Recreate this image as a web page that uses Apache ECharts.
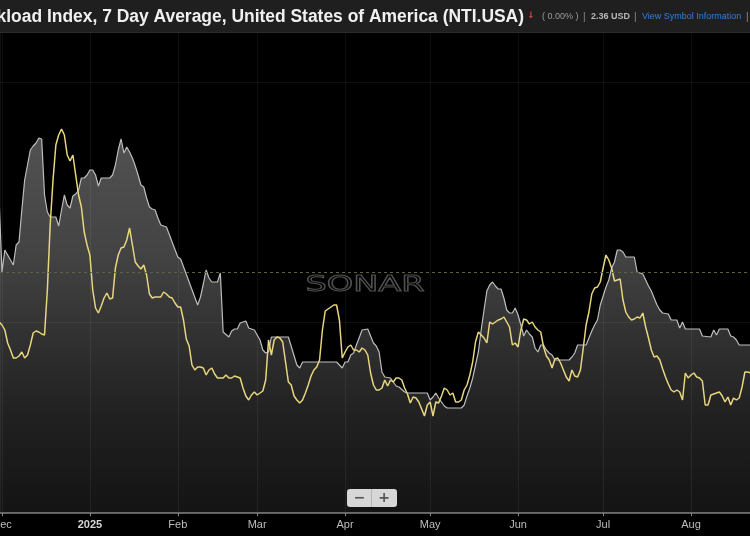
<!DOCTYPE html>
<html>
<head>
<meta charset="utf-8">
<title>NTI.USA</title>
<script src="https://cdn.jsdelivr.net/npm/echarts@6/dist/echarts.min.js"></script>
<style>
  html, body { margin: 0; padding: 0; background: #000; }
  #chart { width: 750px; height: 536px; }
</style>
</head>
<body>
<div id="chart"></div>
<script>
// day 0 = 1 Dec 2024, yellow line has one value per day starting at startDay
var startDay = -1;
var yellowValues = [
  2.260, 2.254, 2.244, 2.218, 2.204, 2.188, 2.188, 2.192, 2.200, 2.188,
  2.194, 2.214, 2.238, 2.242, 2.240, 2.236, 2.234, 2.324, 2.454, 2.544,
  2.614, 2.634, 2.646, 2.634, 2.594, 2.582, 2.594, 2.554, 2.514, 2.490,
  2.440, 2.414, 2.394, 2.324, 2.288, 2.278, 2.292, 2.308, 2.318, 2.306,
  2.308, 2.368, 2.394, 2.408, 2.410, 2.424, 2.448, 2.414, 2.380, 2.372,
  2.366, 2.374, 2.354, 2.316, 2.308, 2.310, 2.310, 2.310, 2.320, 2.316,
  2.310, 2.308, 2.298, 2.290, 2.290, 2.264, 2.226, 2.212, 2.174, 2.164,
  2.170, 2.170, 2.168, 2.154, 2.164, 2.168, 2.156, 2.148, 2.148, 2.148,
  2.154, 2.148, 2.148, 2.152, 2.150, 2.148, 2.128, 2.112, 2.104, 2.114,
  2.120, 2.114, 2.118, 2.122, 2.144, 2.224, 2.194, 2.224, 2.230, 2.228,
  2.220, 2.180, 2.140, 2.134, 2.112, 2.104, 2.098, 2.104, 2.118, 2.134,
  2.152, 2.164, 2.170, 2.184, 2.244, 2.282, 2.286, 2.290, 2.294, 2.294,
  2.264, 2.188, 2.200, 2.210, 2.214, 2.204, 2.204, 2.200, 2.208, 2.204,
  2.194, 2.158, 2.134, 2.124, 2.124, 2.128, 2.144, 2.132, 2.144, 2.140,
  2.148, 2.148, 2.144, 2.128, 2.116, 2.098, 2.110, 2.108, 2.100, 2.086,
  2.072, 2.094, 2.100, 2.072, 2.100, 2.098, 2.112, 2.128, 2.124, 2.114,
  2.118, 2.100, 2.100, 2.104, 2.124, 2.134, 2.154, 2.180, 2.220, 2.240,
  2.234, 2.228, 2.218, 2.260, 2.256, 2.260, 2.264, 2.266, 2.270, 2.260,
  2.250, 2.214, 2.218, 2.210, 2.244, 2.266, 2.264, 2.256, 2.260, 2.250,
  2.244, 2.240, 2.210, 2.192, 2.184, 2.168, 2.186, 2.188, 2.178, 2.164,
  2.150, 2.142, 2.164, 2.152, 2.150, 2.164, 2.208, 2.254, 2.280, 2.316,
  2.328, 2.330, 2.340, 2.368, 2.394, 2.384, 2.368, 2.342, 2.344, 2.346,
  2.304, 2.280, 2.270, 2.264, 2.266, 2.270, 2.268, 2.278, 2.250, 2.228,
  2.204, 2.190, 2.192, 2.184, 2.166, 2.150, 2.136, 2.124, 2.120, 2.124,
  2.120, 2.104, 2.158, 2.148, 2.154, 2.158, 2.150, 2.148, 2.142, 2.094,
  2.094, 2.114, 2.116, 2.118, 2.120, 2.112, 2.100, 2.110, 2.094, 2.108,
  2.104, 2.108, 2.130, 2.160, 2.160, 2.158
];

// gray area, stepped 7 day average (day, value)
var grayDays = [
  -1, 0, 1, 3, 4, 5, 6, 7, 8, 9, 10, 11, 12, 13, 14, 15, 16, 17, 19, 20,
  21, 22, 23, 24, 25, 26, 27, 28, 29, 30, 31, 32, 33, 34, 35, 38, 39, 40, 41, 42,
  43, 44, 45, 46, 47, 48, 49, 50, 51, 52, 53, 54, 55, 56, 57, 58, 62, 63, 69, 70,
  71, 72, 73, 74, 76, 77, 78, 80, 81, 82, 83, 84, 86, 87, 89, 91, 92, 93, 94, 95,
  101, 104, 105, 106, 117, 118, 120, 121, 122, 123, 124, 125, 127, 129, 131, 132, 133, 134, 135, 137,
  139, 140, 142, 143, 150, 151, 152, 153, 154, 155, 156, 157, 162, 163, 164, 165, 166, 167, 168, 169,
  170, 171, 172, 173, 174, 175, 176, 177, 178, 179, 180, 181, 182, 183, 184, 185, 186, 187, 188, 189,
  190, 191, 192, 193, 194, 195, 200, 201, 202, 203, 206, 207, 208, 209, 210, 211, 212, 213, 214, 215,
  216, 217, 218, 219, 220, 223, 224, 225, 226, 227, 228, 229, 230, 231, 232, 233, 235, 236, 238, 239,
  240, 241, 246, 247, 250, 251, 252, 253, 256, 257, 258, 259, 260, 264
];
var grayValues = [
  2.504, 2.360, 2.404, 2.384, 2.374, 2.414, 2.420, 2.484, 2.544, 2.574, 2.604, 2.612, 2.618, 2.628, 2.626, 2.514, 2.480, 2.470, 2.470, 2.452,
  2.484, 2.514, 2.494, 2.488, 2.512, 2.516, 2.524, 2.548, 2.548, 2.554, 2.564, 2.564, 2.554, 2.532, 2.548, 2.548, 2.554, 2.574, 2.604, 2.626,
  2.598, 2.610, 2.600, 2.588, 2.572, 2.554, 2.534, 2.530, 2.508, 2.490, 2.486, 2.484, 2.468, 2.454, 2.452, 2.450, 2.390, 2.386, 2.294, 2.310,
  2.336, 2.364, 2.348, 2.340, 2.340, 2.358, 2.240, 2.230, 2.242, 2.246, 2.246, 2.258, 2.262, 2.248, 2.244, 2.224, 2.204, 2.198, 2.200, 2.230,
  2.230, 2.174, 2.168, 2.180, 2.180, 2.180, 2.168, 2.180, 2.180, 2.194, 2.198, 2.214, 2.244, 2.246, 2.218, 2.212, 2.200, 2.160, 2.150, 2.148,
  2.132, 2.130, 2.120, 2.118, 2.118, 2.104, 2.110, 2.118, 2.108, 2.100, 2.092, 2.088, 2.088, 2.094, 2.112, 2.128, 2.148, 2.174, 2.200, 2.244,
  2.284, 2.322, 2.334, 2.340, 2.332, 2.326, 2.326, 2.308, 2.284, 2.278, 2.278, 2.288, 2.274, 2.254, 2.232, 2.244, 2.236, 2.230, 2.208, 2.200,
  2.214, 2.214, 2.204, 2.198, 2.194, 2.184, 2.184, 2.190, 2.198, 2.214, 2.214, 2.228, 2.242, 2.254, 2.264, 2.294, 2.312, 2.330, 2.344, 2.368,
  2.380, 2.404, 2.404, 2.400, 2.390, 2.390, 2.360, 2.358, 2.356, 2.344, 2.332, 2.322, 2.308, 2.294, 2.284, 2.278, 2.276, 2.264, 2.264, 2.248,
  2.260, 2.246, 2.246, 2.232, 2.230, 2.244, 2.234, 2.246, 2.246, 2.232, 2.230, 2.224, 2.214, 2.214
];

var lastPrice = 2.36;           // dashed reference line
var gridLevels = [2.738, 2.264];
var monthNames = ['Jan', 'Feb', 'Mar', 'Apr', 'May', 'Jun', 'Jul', 'Aug', 'Sep', 'Oct', 'Nov', 'Dec'];

var DAY = 86400000;
var base = new Date(2024, 11, 1).getTime();
function toTime(d) { return base + d * DAY; }

var yellowData = yellowValues.map(function (v, i) { return [toTime(startDay + i), v]; });
var grayData = grayDays.map(function (d, i) { return [toTime(d), grayValues[i]]; });

var chart = echarts.init(document.getElementById('chart'));
chart.setOption({
  backgroundColor: '#000',
  animation: false,
  grid: { left: 0, right: 0, top: 33, bottom: 23, containLabel: false, outerBoundsMode: 'none' },
  xAxis: {
    type: 'time',
    min: toTime(-0.7),
    max: toTime(263.8),
    splitNumber: 9,
    axisLine: { show: true, lineStyle: { color: '#5e5e5e', width: 2 } },
    axisTick: { show: true, length: 3, lineStyle: { color: '#8a8a8a' } },
    axisLabel: {
      color: '#bcbcbc',
      fontSize: 11,
      fontFamily: 'Liberation Sans',
      margin: 6,
      formatter: function (val) {
        var d = new Date(val);
        if (d.getMonth() === 0) return '{y|' + d.getFullYear() + '}';
        return monthNames[d.getMonth()];
      },
      rich: { y: { fontWeight: 'bold', color: '#d6d6d6', fontSize: 11, fontFamily: 'Liberation Sans' } }
    },
    splitLine: { show: true, lineStyle: { color: 'rgba(255,255,255,0.06)', width: 1 } }
  },
  yAxis: {
    type: 'value',
    min: 1.878,
    max: 2.838,
    show: false
  },
  series: [
    {
      name: 'NTI 7DA',
      type: 'line',
      data: grayData,
      symbol: 'none',
      lineStyle: { color: '#bdbdbd', width: 1.2 },
      areaStyle: {
        color: {
          type: 'linear', x: 0, y: 120, x2: 0, y2: 513, global: true,
          colorStops: [
            { offset: 0, color: 'rgba(255,255,255,0.47)' },
            { offset: 0.33, color: 'rgba(255,255,255,0.38)' },
            { offset: 0.585, color: 'rgba(255,255,255,0.26)' },
            { offset: 0.763, color: 'rgba(255,255,255,0.18)' },
            { offset: 1, color: 'rgba(255,255,255,0.11)' }
          ]
        }
      },
      markLine: {
        silent: true,
        symbol: 'none',
        label: { show: false },
        data: [
          { yAxis: lastPrice, lineStyle: { type: [3, 3], color: '#56643f', width: 1 } },
          { yAxis: gridLevels[0], lineStyle: { type: 'solid', color: 'rgba(255,255,255,0.06)', width: 1 } },
          { yAxis: gridLevels[1], lineStyle: { type: 'solid', color: 'rgba(255,255,255,0.06)', width: 1 } }
        ]
      }
    },
    {
      name: 'NTI',
      type: 'line',
      data: yellowData,
      symbol: 'none',
      z: 3,
      lineStyle: { color: '#e8d67e', width: 1.5 }
    }
  ],
  graphic: [
    { type: 'rect', shape: { x: 0, y: 0, width: 750, height: 33 }, style: { fill: '#1f1f1f' }, z: 10 },
    { type: 'rect', shape: { x: 0, y: 32, width: 750, height: 1 }, style: { fill: '#2b2b2b' }, z: 10 },
    {
      type: 'text', x: 524, y: 17, z: 11,
      style: {
        text: 'National Truckload Index, 7 Day Average, United States of America (NTI.USA)',
        align: 'right', verticalAlign: 'middle',
        font: 'bold 17.45px "Liberation Sans"', fill: '#f0f0f0'
      }
    },
    { type: 'text', x: 531, y: 16, z: 11, style: { text: '↓', align: 'center', verticalAlign: 'middle', font: 'bold 9px "DejaVu Sans"', fill: '#d2473b' } },
    { type: 'text', x: 542, y: 17, z: 11, style: { text: '( 0.00% )', verticalAlign: 'middle', font: '9px "Liberation Sans"', fill: '#9c9c9c' } },
    { type: 'text', x: 583, y: 17, z: 11, style: { text: '|', verticalAlign: 'middle', font: '10px "Liberation Sans"', fill: '#8a8a8a' } },
    { type: 'text', x: 591, y: 17, z: 11, style: { text: '2.36 USD', verticalAlign: 'middle', font: 'bold 9px "Liberation Sans"', fill: '#b8b8b8' } },
    { type: 'text', x: 634, y: 17, z: 11, style: { text: '|', verticalAlign: 'middle', font: '10px "Liberation Sans"', fill: '#8a8a8a' } },
    { type: 'text', x: 642, y: 17, z: 11, style: { text: 'View Symbol Information', verticalAlign: 'middle', font: '9px "Liberation Sans"', fill: '#3180d6' } },
    { type: 'text', x: 746, y: 17, z: 11, style: { text: '|', verticalAlign: 'middle', font: '10px "Liberation Sans"', fill: '#8a8a8a' } },
    // SONAR watermark
    {
      type: 'text', x: 365, y: 286, scaleX: 1.6, z: 1, silent: true,
      style: {
        text: 'SONAR', align: 'center', verticalAlign: 'middle',
        font: '21px "DejaVu Sans"', fill: 'rgba(0,0,0,0)', stroke: '#505050', lineWidth: 1
      }
    },
    // zoom buttons
    { type: 'rect', shape: { x: 347, y: 489, width: 50, height: 18, r: 3 }, style: { fill: '#d7d7d7' }, z: 12 },
    { type: 'rect', shape: { x: 371, y: 489, width: 1, height: 18 }, style: { fill: '#b5b5b5' }, z: 13 },
    { type: 'text', x: 359.5, y: 498, z: 13, style: { text: '−', align: 'center', verticalAlign: 'middle', font: 'bold 14px "DejaVu Sans"', fill: '#555' } },
    { type: 'text', x: 384, y: 498, z: 13, style: { text: '+', align: 'center', verticalAlign: 'middle', font: 'bold 14px "DejaVu Sans"', fill: '#555' } }
  ]
});
</script>
</body>
</html>
